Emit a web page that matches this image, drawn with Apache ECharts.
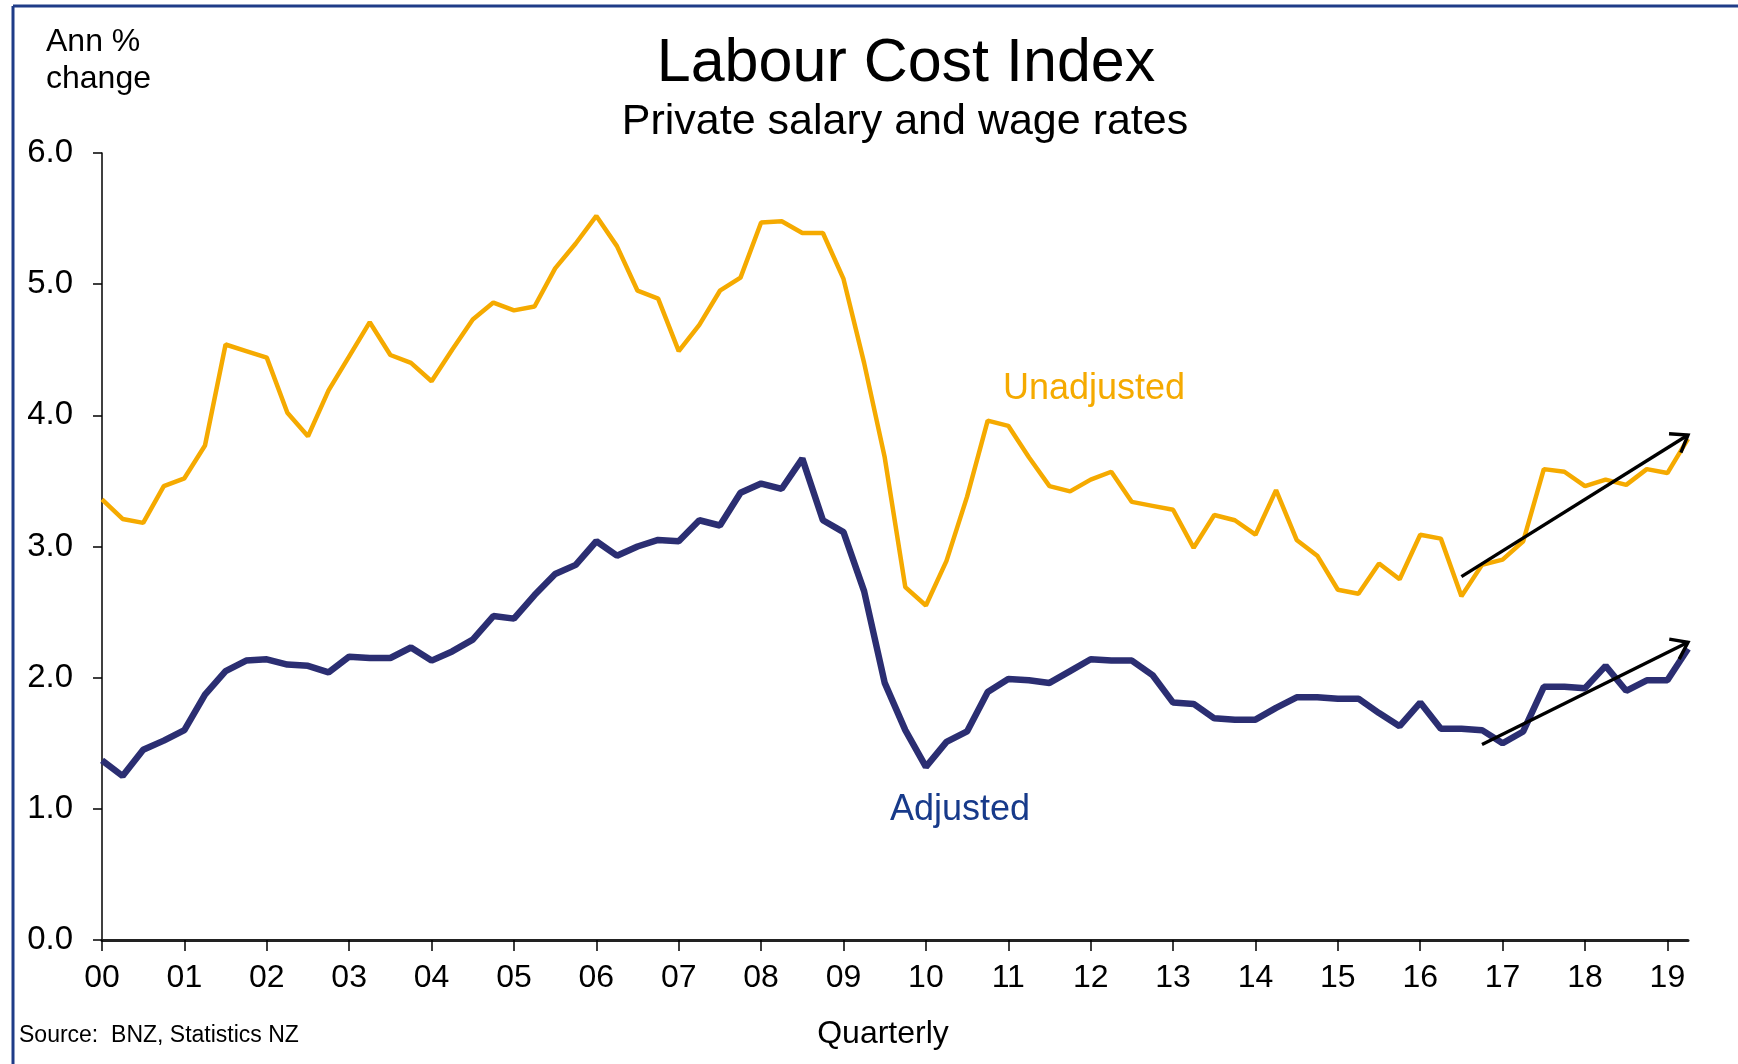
<!DOCTYPE html>
<html>
<head>
<meta charset="utf-8">
<script src="https://cdn.jsdelivr.net/npm/echarts@6/dist/echarts.min.js"></script>
<style>
html,body{margin:0;padding:0;background:#fff;}
#chart{width:1738px;height:1064px;}
</style>
</head>
<body>
<div id="chart"></div>
<script>
// ---- Data ----
var yearLabels = ['00','01','02','03','04','05','06','07','08','09','10','11','12','13','14','15','16','17','18','19'];
var quarters = ['Q1','Q2','Q3','Q4'];
var yTicks = [0, 1, 2, 3, 4, 5, 6];

var unadjusted = [
  3.36, 3.21, 3.18, 3.46, 3.52, 3.77, 4.54, 4.49, 4.44, 4.02,
  3.84, 4.19, 4.45, 4.71, 4.46, 4.40, 4.26, 4.50, 4.73, 4.86,
  4.80, 4.83, 5.12, 5.31, 5.52, 5.29, 4.95, 4.89, 4.49, 4.69,
  4.95, 5.05, 5.47, 5.48, 5.39, 5.39, 5.04, 4.40, 3.68, 2.69,
  2.55, 2.89, 3.38, 3.96, 3.92, 3.68, 3.46, 3.42, 3.51, 3.57,
  3.34, 3.31, 3.28, 2.99, 3.24, 3.20, 3.09, 3.43, 3.05, 2.93,
  2.67, 2.64, 2.87, 2.75, 3.09, 3.06, 2.62, 2.86, 2.90, 3.04,
  3.59, 3.57, 3.46, 3.51, 3.47, 3.59, 3.56, 3.82
];
var adjusted = [
  1.37, 1.25, 1.45, 1.52, 1.60, 1.87, 2.05, 2.13, 2.14, 2.10,
  2.09, 2.04, 2.16, 2.15, 2.15, 2.23, 2.13, 2.20, 2.29, 2.47,
  2.45, 2.63, 2.79, 2.86, 3.04, 2.93, 3.00, 3.05, 3.04, 3.20,
  3.16, 3.41, 3.48, 3.44, 3.67, 3.20, 3.11, 2.66, 1.96, 1.60,
  1.32, 1.51, 1.59, 1.89, 1.99, 1.98, 1.96, 2.05, 2.14, 2.13,
  2.13, 2.02, 1.81, 1.80, 1.69, 1.68, 1.68, 1.77, 1.85, 1.85,
  1.84, 1.84, 1.73, 1.63, 1.81, 1.61, 1.61, 1.60, 1.50, 1.59,
  1.93, 1.93, 1.92, 2.09, 1.90, 1.98, 1.98, 2.22
];
// trend arrows: [startIndex, startValue, endIndex, endValue] in category-index / value space
var unadjustedArrow = [65.6, 2.77, 77.4, 3.85];
var adjustedArrow = [67.0, 1.49, 77.2, 2.27];

// categories built from years x quarters (2000Q1 .. 2019Q2)
var categories = [];
yearLabels.forEach(function (y) {
  quarters.forEach(function (q) { categories.push(y + ' ' + q); });
});
categories = categories.slice(0, unadjusted.length);

var FONT = '"Liberation Sans", Arial, sans-serif';
var YELLOW = '#F5AA00';
var NAVY = '#2B2E72';

function renderArrow(params, api) {
  var p1 = api.coord([api.value(0), api.value(1)]);
  var p2 = api.coord([api.value(2), api.value(3)]);
  var ang = Math.atan2(p2[1] - p1[1], p2[0] - p1[0]);
  var L = 19, spread = Math.PI / 5;
  var a1 = [p2[0] - L * Math.cos(ang - spread), p2[1] - L * Math.sin(ang - spread)];
  var a2 = [p2[0] - L * Math.cos(ang + spread), p2[1] - L * Math.sin(ang + spread)];
  var st = { stroke: '#000', lineWidth: 3.4, fill: null, lineCap: 'butt', lineJoin: 'miter' };
  return {
    type: 'group',
    children: [
      { type: 'line', shape: { x1: p1[0], y1: p1[1], x2: p2[0], y2: p2[1] }, style: st },
      { type: 'polyline', shape: { points: [a1, p2, a2] }, style: st }
    ]
  };
}

var chart = echarts.init(document.getElementById('chart'), null, { renderer: 'canvas' });
chart.setOption({
  animation: false,
  backgroundColor: '#fff',
  grid: { left: 102, right: 50, top: 153, bottom: 124, containLabel: false },
  xAxis: {
    type: 'category',
    data: categories,
    boundaryGap: false,
    axisLine: { show: true, lineStyle: { color: '#222', width: 3 } },
    axisTick: { show: true, interval: 3, length: 11, lineStyle: { color: '#000', width: 1.5 } },
    axisLabel: {
      interval: 3,
      margin: 22,
      fontFamily: FONT,
      fontSize: 32,
      color: '#000',
      formatter: function (v) { return v.split(' ')[0]; }
    },
    splitLine: { show: false }
  },
  yAxis: {
    type: 'value',
    min: yTicks[0],
    max: yTicks[yTicks.length - 1],
    interval: 1,
    axisLine: { show: true, lineStyle: { color: '#000', width: 1.5 } },
    axisTick: { show: true, length: 9, lineStyle: { color: '#000', width: 1.5 } },
    axisLabel: {
      margin: 29,
      fontFamily: FONT,
      fontSize: 33,
      color: '#000',
      formatter: function (v) { return v.toFixed(1); }
    },
    splitLine: { show: false }
  },
  series: [
    {
      name: 'Unadjusted',
      type: 'line',
      data: unadjusted,
      showSymbol: false,
      lineStyle: { color: YELLOW, width: 4.5 },
      itemStyle: { color: YELLOW },
      z: 2
    },
    {
      name: 'Adjusted',
      type: 'line',
      data: adjusted,
      showSymbol: false,
      lineStyle: { color: NAVY, width: 6.5 },
      itemStyle: { color: NAVY },
      z: 3
    },
    {
      name: 'Trend',
      type: 'custom',
      renderItem: renderArrow,
      clip: false,
      silent: true,
      encode: { x: [0, 2], y: [1, 3] },
      data: [unadjustedArrow, adjustedArrow],
      z: 5
    }
  ],
  graphic: [
    { type: 'line', shape: { x1: 13, y1: 6, x2: 1738, y2: 6 }, style: { stroke: '#1F3C88', lineWidth: 3 }, silent: true },
    { type: 'line', shape: { x1: 13, y1: 6, x2: 13, y2: 1064 }, style: { stroke: '#1F3C88', lineWidth: 3 }, silent: true },
    { type: 'text', style: { text: 'Labour Cost Index', font: '61px ' + FONT, fill: '#000', textAlign: 'center', textVerticalAlign: 'middle', x: 906, y: 64 }, z: 10 },
    { type: 'text', style: { text: 'Private salary and wage rates', font: '43px ' + FONT, fill: '#000', textAlign: 'center', textVerticalAlign: 'middle', x: 905, y: 122 }, z: 10 },
    { type: 'text', style: { text: 'Ann %\nchange', font: '32px ' + FONT, fill: '#000', lineHeight: 37, x: 46, y: 24 }, z: 10 },
    { type: 'text', style: { text: 'Unadjusted', font: '36px ' + FONT, fill: YELLOW, textVerticalAlign: 'middle', x: 1003, y: 389 }, z: 10 },
    { type: 'text', style: { text: 'Adjusted', font: '36px ' + FONT, fill: '#173A8A', textVerticalAlign: 'middle', x: 890, y: 810 }, z: 10 },
    { type: 'text', style: { text: 'Quarterly', font: '32px ' + FONT, fill: '#000', textAlign: 'center', textVerticalAlign: 'middle', x: 883, y: 1034 }, z: 10 },
    { type: 'text', style: { text: 'Source:  BNZ, Statistics NZ', font: '23px ' + FONT, fill: '#000', textVerticalAlign: 'middle', x: 19, y: 1036 }, z: 10 }
  ]
});
</script>
</body>
</html>
